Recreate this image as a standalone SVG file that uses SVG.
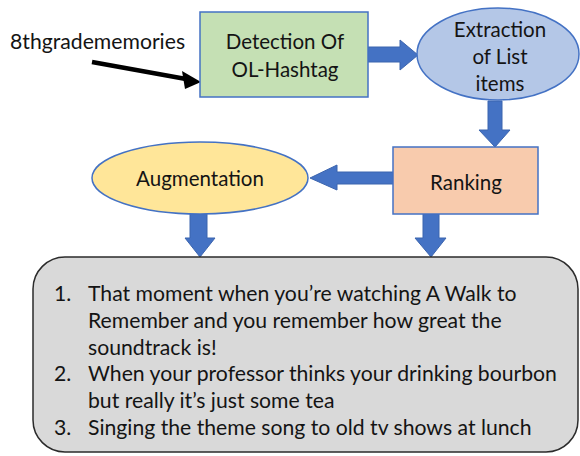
<svg xmlns="http://www.w3.org/2000/svg" width="580" height="456" viewBox="0 0 580 456">
  <style>
    .lbl { font-family: Lato, "Liberation Sans", Arial, sans-serif; font-size: 20.5px; fill: #141414; text-anchor: middle; }
    .item { font-family: Lato, "Liberation Sans", Arial, sans-serif; font-size: 21.2px; fill: #141414; }
    .node { stroke: #4472c4; stroke-width: 1.5; }
    .flow { fill: #4472c4; stroke: #3b64ae; stroke-width: 1; }
  </style>
  <rect width="580" height="456" fill="#ffffff"/>

  <g id="connectors">
    <!-- hashtag pointer -->
    <line x1="92" y1="62" x2="186" y2="79" stroke="#000" stroke-width="4.5"/>
    <polygon points="201,82 182,71 185,89" fill="#000"/>
    <!-- detection -> extraction -->
    <polygon class="flow" points="368,47 400,47 400,40 418,55 400,70 400,62 368,62"/>
    <!-- extraction -> ranking -->
    <polygon class="flow" points="488,101 502,101 502,130 510,130 495,147 479,130 488,130"/>
    <!-- ranking -> augmentation -->
    <polygon class="flow" points="393,172 337,172 337,165 310,178 337,190 337,184 393,184"/>
    <!-- augmentation -> list -->
    <polygon class="flow" points="190,214 207,214 207,238 215,238 200,257 185,238 190,238"/>
    <!-- ranking -> list -->
    <polygon class="flow" points="423,214 439,214 439,238 446,238 431,257 415,238 423,238"/>
  </g>

  <g id="hashtag">
    <text class="item" x="10" y="49">8thgradememories</text>
  </g>

  <g id="detection">
    <rect class="node" x="200" y="12" width="168" height="85" fill="#c5e0b4"/>
    <text class="lbl" x="285" y="49">Detection Of</text>
    <text class="lbl" x="285" y="77">OL-Hashtag</text>
  </g>

  <g id="extraction">
    <ellipse class="node" cx="498" cy="54" rx="81" ry="46" fill="#b4c7e7"/>
    <text class="lbl" x="500" y="37">Extraction</text>
    <text class="lbl" x="500" y="64">of List</text>
    <text class="lbl" x="500" y="91">items</text>
  </g>

  <g id="ranking">
    <rect class="node" x="393" y="147" width="145" height="67" fill="#f8cbad"/>
    <text class="lbl" x="466" y="190">Ranking</text>
  </g>

  <g id="augmentation">
    <ellipse class="node" cx="200" cy="178" rx="108" ry="36" fill="#ffe699"/>
    <text class="lbl" x="200" y="186">Augmentation</text>
  </g>

  <g id="list">
    <rect x="33" y="257" width="545" height="195" rx="32" ry="32" fill="#d9d9d9" stroke="#2b2b2b" stroke-width="1.5"/>
    <text class="item" x="54" y="301">1.</text>
    <text class="item" x="88" y="301">That moment when you’re watching A Walk to</text>
    <text class="item" x="88" y="328">Remember and you remember how great the</text>
    <text class="item" x="88" y="355">soundtrack is!</text>
    <text class="item" x="54" y="381">2.</text>
    <text class="item" x="88" y="381">When your professor thinks your drinking bourbon</text>
    <text class="item" x="88" y="408">but really it’s just some tea</text>
    <text class="item" x="54" y="435">3.</text>
    <text class="item" x="88" y="435">Singing the theme song to old tv shows at lunch</text>
  </g>
</svg>
